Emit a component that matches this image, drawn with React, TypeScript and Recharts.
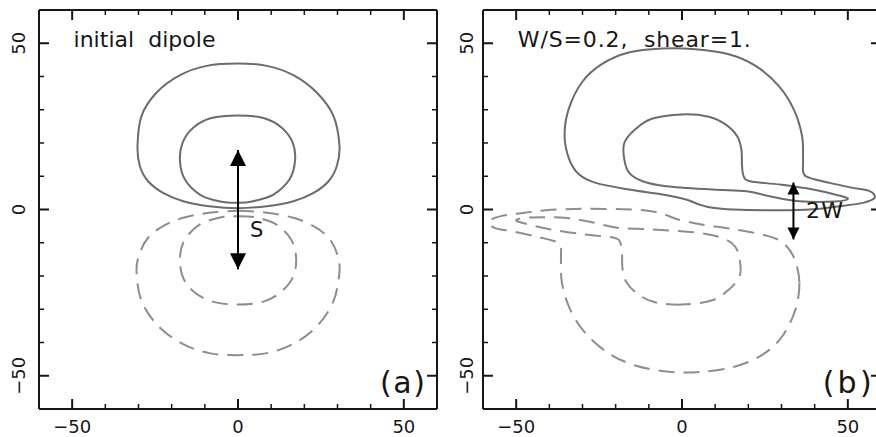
import React from 'react';
import { ComposedChart, Line, XAxis, YAxis, ReferenceDot } from 'recharts';

// ---------- data ----------
const DOMAIN: [number, number] = [-60, 60];
const TICKS = [-50, -40, -30, -20, -10, 0, 10, 20, 30, 40, 50];
const MAJOR_TICKS = [-50, 0, 50];

// panel (a): initial dipole
const A_POS_OUTER = [[0,43.9],[8.7,43.2],[16.7,40.4],[23.8,35.1],[28.8,28.1],[30.6,19.1],[29.8,13.1],[27.3,8.5],[22.8,5.0],[16.7,2.5],[8.7,1.0],[0,0.4],[-8.7,1.0],[-16.5,2.5],[-22.6,5.0],[-27.1,8.5],[-29.6,13.1],[-30.3,19.1],[-29.1,28.1],[-24.6,35.1],[-17.5,40.4],[-9.5,43.2],[0,43.9]];
const A_POS_INNER = [[0,28.3],[7.7,27.5],[13.2,24.6],[16.5,20.1],[17.2,14.6],[15.5,9.0],[10.7,4.5],[4.6,2.5],[0,2.0],[-5.4,2.4],[-11.5,4.5],[-16.0,9.0],[-17.5,14.6],[-16.7,20.1],[-13.5,24.6],[-8.0,27.5],[0,28.3]];
const A_NEG_OUTER = [[0,-0.4],[8.7,-1.0],[16.7,-2.5],[22.8,-5.0],[27.3,-8.5],[29.8,-13.1],[30.6,-18.5],[28.8,-27.5],[23.8,-35.1],[16.7,-40.4],[8.7,-43.2],[0,-43.8],[-8.7,-43.2],[-16.7,-40.4],[-24.0,-35.1],[-29.1,-27.5],[-30.6,-18.5],[-29.6,-13.1],[-27.1,-8.5],[-22.6,-5.0],[-16.5,-2.5],[-8.7,-1.0],[0,-0.4]];
const A_NEG_INNER = [[0,-2.0],[5.4,-2.4],[11.5,-4.5],[16.0,-9.0],[17.5,-14.3],[16.7,-20.1],[13.2,-24.6],[7.7,-27.7],[0,-28.6],[-7.7,-27.7],[-13.5,-24.6],[-16.7,-20.1],[-17.5,-14.3],[-16.0,-9.0],[-11.5,-4.5],[-5.4,-2.4],[0,-2.0]];
const S_ARROW = [[0,17.9],[0,-18.0]];

// panel (b): W/S=0.2, shear=1.
const B_POS_OUTER = [[-35.4,22.1],[-34.2,30.1],[-30.2,38.2],[-24.2,43.7],[-16.1,47.2],[-6.0,48.4],[4.0,48.2],[14.1,46.7],[22.2,43.2],[29.2,37.1],[33.7,30.1],[36.2,22.1],[36.5,15.1],[36.6,11.0],[38.5,9.5],[44.5,8.0],[51.5,6.5],[56.6,5.5],[58.1,3.5],[54.6,2.0],[47.5,1.0],[39.5,0.1],[29.4,-0.2],[15.3,0],[9.2,0.5],[5.2,1.5],[1.2,3.0],[-5.9,4.5],[-15.9,6.0],[-26,8.0],[-31,10.5],[-34.0,15.1],[-35.4,22.1]];
const B_POS_INNER = [[0,28.6],[8.1,27.9],[13.1,25.6],[16.6,22.1],[17.9,18.1],[18.1,13.1],[18.6,10.0],[20.5,8.5],[29.5,7.5],[39.5,6.0],[47,4.3],[50,3.2],[46,2.4],[35.4,2.5],[26.4,4.0],[19.5,5.5],[9.2,6.0],[-4.8,7.0],[-11.9,8.5],[-15.9,11.0],[-17.4,15.1],[-17.4,20.0],[-14.1,24.1],[-9.1,27.3],[0,28.6]];
const B_NEG_OUTER = [[35.4,-22.1],[34.2,-30.1],[30.2,-38.2],[24.2,-43.7],[16.1,-47.2],[6.0,-48.8],[-4.0,-48.8],[-14.1,-46.9],[-22.2,-43.2],[-29.2,-37.1],[-33.7,-30.1],[-36.2,-22.1],[-36.5,-15.1],[-36.6,-11.0],[-38.5,-9.5],[-44.5,-8.0],[-51.5,-6.5],[-56.6,-5.5],[-58.1,-3.5],[-54.6,-2.0],[-47.5,-1.0],[-39.5,-0.1],[-29.4,0.2],[-15.3,0],[-9.2,-0.5],[-5.2,-1.5],[-1.2,-3.0],[5.9,-4.5],[15.9,-6.0],[26,-8.0],[31,-10.5],[34.0,-15.1],[35.4,-22.1]];
const B_NEG_INNER = [[0,-28.6],[-8.1,-27.9],[-13.1,-25.6],[-16.6,-22.1],[-17.9,-18.1],[-18.1,-13.1],[-18.6,-10.0],[-20.5,-8.5],[-29.5,-7.5],[-39.5,-6.0],[-47,-4.3],[-50,-3.2],[-46,-2.4],[-35.4,-2.5],[-26.4,-4.0],[-19.5,-5.5],[-9.2,-6.0],[4.8,-7.0],[11.9,-8.5],[15.9,-11.0],[17.4,-15.1],[17.4,-20.0],[14.1,-24.1],[9.1,-27.3],[0,-28.6]];
const W_ARROW = [[33.6,8.1],[33.6,-9.0]];

const LABELS_A = [
  { text: 'initial  dipole', x: -49.6, y: 49.0, size: 22, len: 142 },
  { text: 'S', x: 3.6, y: -8.4, size: 21, len: 16 },
  { text: '(a)', x: 42.8, y: -55.2, size: 30, len: 45 },
];
const LABELS_B = [
  { text: 'W/S=0.2,  shear=1.', x: -49.5, y: 49.0, size: 22, len: 233 },
  { text: '2W', x: 37.4, y: -2.6, size: 22, len: 37 },
  { text: '(b)', x: 42.4, y: -55.2, size: 30, len: 49 },
];

// ---------- helpers ----------
const toPts = (arr: number[][]) => arr.map(([x, y]) => ({ x, y }));

const SOLID = '#6c6c6c';
const DASHED = '#8e8e8e';
const INK = '#161616';
const FONT = '"DejaVu Sans", Verdana, sans-serif';

const catmullRom = (context: any) => {
  let pts: number[][] = [];
  return {
    areaStart() {},
    areaEnd() {},
    lineStart() { pts = []; },
    point(x: number, y: number) { pts.push([+x, +y]); },
    lineEnd() {
      const n = pts.length;
      if (n === 0) return;
      const f = pts[0], l = pts[n - 1];
      const closed = n > 3 && Math.hypot(f[0] - l[0], f[1] - l[1]) < 0.5;
      const P = closed ? pts.slice(0, n - 1) : pts;
      const m = P.length;
      const get = (i: number) => (closed ? P[((i % m) + m) % m] : P[Math.max(0, Math.min(m - 1, i))]);
      context.moveTo(P[0][0], P[0][1]);
      const segs = closed ? m : m - 1;
      for (let i = 0; i < segs; i++) {
        const p0 = get(i - 1), p1 = get(i), p2 = get(i + 1), p3 = get(i + 2);
        context.bezierCurveTo(
          p1[0] + (p2[0] - p0[0]) / 6, p1[1] + (p2[1] - p0[1]) / 6,
          p2[0] - (p3[0] - p1[0]) / 6, p2[1] - (p3[1] - p1[1]) / 6,
          p2[0], p2[1]
        );
      }
      if (closed) context.closePath();
    },
  };
};

const fmt = (v: number) => (v < 0 ? `\u2212${-v}` : `${v}`);
const isMajor = (v: number) => MAJOR_TICKS.includes(v);
const tickLen = (v: number) => (isMajor(v) ? 10 : 5);
const tickW = (v: number) => (isMajor(v) ? 2 : 1.5);

const BottomTick = (p: any) => {
  const v = p.payload.value;
  return (
    <g>
      <line x1={p.x} x2={p.x} y1={p.y} y2={p.y - tickLen(v)} stroke={INK} strokeWidth={tickW(v)} />
      {isMajor(v) && (
        <text x={p.x} y={p.y + 24} textAnchor="middle" fontSize={18} fontFamily={FONT} fill={INK}>{fmt(v)}</text>
      )}
    </g>
  );
};
const TopTick = (p: any) => {
  const v = p.payload.value;
  return <line x1={p.x} x2={p.x} y1={p.y} y2={p.y + tickLen(v)} stroke={INK} strokeWidth={tickW(v)} />;
};
const makeLeftTick = (off: number) => (p: any) => {
  const v = p.payload.value;
  return (
    <g>
      <line x1={p.x} x2={p.x + tickLen(v)} y1={p.y} y2={p.y} stroke={INK} strokeWidth={tickW(v)} />
      {isMajor(v) && (
        <text transform={`translate(${p.x - off},${p.y}) rotate(-90)`} textAnchor="middle" fontSize={18} fontFamily={FONT} fill={INK}>{fmt(v)}</text>
      )}
    </g>
  );
};
const RightTick = (p: any) => {
  const v = p.payload.value;
  return <line x1={p.x} x2={p.x - tickLen(v)} y1={p.y} y2={p.y} stroke={INK} strokeWidth={tickW(v)} />;
};

const arrowDot = (size: number) => (props: any) => {
  const { cx, cy, index } = props;
  const dir = index === 0 ? 1 : -1;
  const h = size / 2;
  return (
    <path key={`ah-${index}`} d={`M${cx},${cy} L${cx - h},${cy + dir * size} L${cx + h},${cy + dir * size} Z`} fill="#000" />
  );
};

type Series = { data: number[][]; dashed: boolean };
type Lbl = { text: string; x: number; y: number; size: number; len: number };

const frame = { stroke: INK, strokeWidth: 2 };

function Panel(props: {
  left: number; plotLeft: number; rightW: number; yOff: number;
  series: Series[]; labels: Lbl[]; arrow: number[][]; head: number;
}) {
  const { left, plotLeft, rightW, yOff, series, labels, arrow, head } = props;
  const width = plotLeft + 398 + rightW;
  const LeftTick = makeLeftTick(yOff);
  return (
    <div style={{ position: 'absolute', left, top: 0 }}>
      <ComposedChart width={width} height={437} margin={{ top: 0, right: 0, bottom: 0, left: 0 }}>
        <XAxis xAxisId="b" type="number" dataKey="x" domain={DOMAIN} ticks={TICKS} interval={0} height={28}
          tickSize={0} tickMargin={0} tickLine={false} axisLine={frame} tick={(p: any) => <BottomTick {...p} />} allowDataOverflow />
        <XAxis xAxisId="t" orientation="top" type="number" dataKey="x" domain={DOMAIN} ticks={TICKS} interval={0} height={10}
          tickSize={0} tickMargin={0} tickLine={false} axisLine={frame} tick={(p: any) => <TopTick {...p} />} allowDataOverflow />
        <YAxis yAxisId="l" type="number" dataKey="y" domain={DOMAIN} ticks={TICKS} interval={0} width={plotLeft}
          tickSize={0} tickMargin={0} tickLine={false} axisLine={frame} tick={(p: any) => <LeftTick {...p} />} allowDataOverflow />
        <YAxis yAxisId="r" orientation="right" type="number" dataKey="y" domain={DOMAIN} ticks={TICKS} interval={0} width={rightW}
          tickSize={0} tickMargin={0} tickLine={false} axisLine={frame} tick={(p: any) => <RightTick {...p} />} allowDataOverflow />
        {series.map((s, i) => (
          <Line key={`c${i}`} xAxisId="b" yAxisId="l" data={toPts(s.data)} dataKey="y" type={catmullRom as any}
            stroke={s.dashed ? DASHED : SOLID} strokeWidth={2} strokeDasharray={s.dashed ? '16 9' : undefined}
            dot={false} activeDot={false} isAnimationActive={false} />
        ))}
        <Line xAxisId="b" yAxisId="l" data={toPts(arrow)} dataKey="y" type="linear" stroke="#000" strokeWidth={2}
          dot={arrowDot(head) as any} activeDot={false} isAnimationActive={false} />
        {labels.map((l, i) => (
          <ReferenceDot key={`l${i}`} xAxisId="b" yAxisId="l" x={l.x} y={l.y} r={0} ifOverflow="visible"
            shape={(p: any) => (
              <text x={p.cx} y={p.cy} fontSize={l.size} fontFamily={FONT} fill={INK}
                textLength={l.len} lengthAdjust="spacing" style={{ whiteSpace: 'pre' }}>{l.text}</text>
            )} />
        ))}
      </ComposedChart>
    </div>
  );
}

export default function App() {
  return (
    <div style={{ position: 'absolute', left: 0, top: 0, width: 876, height: 437, overflow: 'hidden', background: '#fff' }}>
      <Panel left={0} plotLeft={39} rightW={3} yOff={14}
        series={[
          { data: A_POS_OUTER, dashed: false },
          { data: A_POS_INNER, dashed: false },
          { data: A_NEG_OUTER, dashed: true },
          { data: A_NEG_INNER, dashed: true },
        ]}
        labels={LABELS_A} arrow={S_ARROW} head={16} />
      <Panel left={440} plotLeft={43} rightW={9} yOff={10}
        series={[
          { data: B_POS_OUTER, dashed: false },
          { data: B_POS_INNER, dashed: false },
          { data: B_NEG_OUTER, dashed: true },
          { data: B_NEG_INNER, dashed: true },
        ]}
        labels={LABELS_B} arrow={W_ARROW} head={12} />
    </div>
  );
}
